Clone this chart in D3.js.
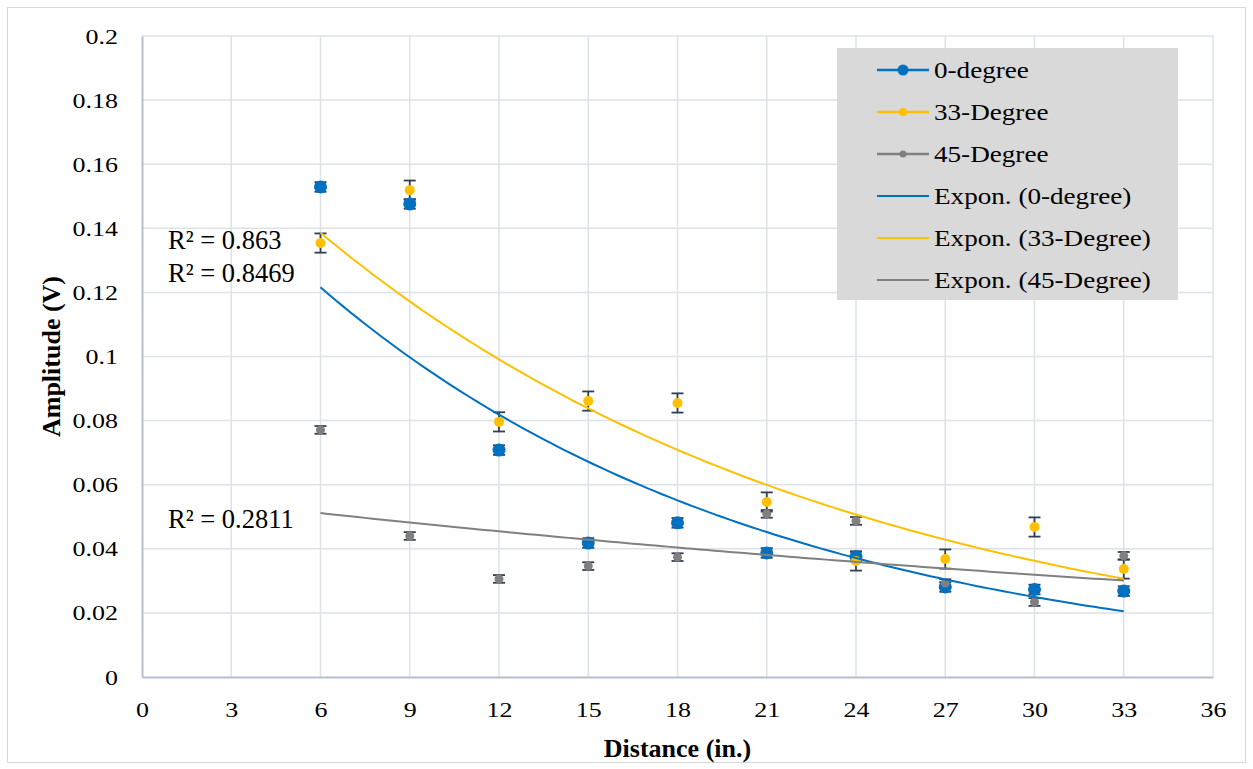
<!DOCTYPE html>
<html>
<head>
<meta charset="utf-8">
<script src="https://cdn.jsdelivr.net/npm/d3@7"></script>
<style>
  body { margin: 0; background: #fff; }
  text { font-family: "Liberation Serif", "Times New Roman", serif; fill: #000; }
</style>
</head>
<body>
<div id="chart"></div>
<script>
// values
var distances = [6, 9, 12, 15, 18, 21, 24, 27, 30, 33];
var deg0 = [0.1529, 0.1476, 0.0708, 0.0418, 0.0481, 0.0387, 0.0376, 0.0281, 0.0273, 0.0268];
var deg33 = [0.1354, 0.1519, 0.0796, 0.0861, 0.0855, 0.0546, 0.0362, 0.0368, 0.0468, 0.0337];
var deg45 = [0.0771, 0.0440, 0.0306, 0.0346, 0.0374, 0.0509, 0.0487, 0.0293, 0.0234, 0.0378];
var err0 = 0.0015, err33 = 0.003, err45 = 0.0012;
var seriesNames = ["0-degree", "33-Degree", "45-Degree"];
var trendNames = ["Expon. (0-degree)", "Expon. (33-Degree)", "Expon. (45-Degree)"];
var r2Labels = ["R² = 0.8469", "R² = 0.863", "R² = 0.2811"];
var xTicks = [0, 3, 6, 9, 12, 15, 18, 21, 24, 27, 30, 33, 36];
var yTicks = [0, 0.02, 0.04, 0.06, 0.08, 0.1, 0.12, 0.14, 0.16, 0.18, 0.2];

var width = 1253, height = 769;
var margin = {left: 142, right: 40, top: 36, bottom: 92};

var colors = ["#0070C0", "#FFC000", "#808080"];
var radii = [6.5, 5, 4.5];
var stretch = 1.18; // tick and legend text is a bit wider than plain Times
var series = [
    {name: seriesNames[0], values: deg0, err: err0},
    {name: seriesNames[1], values: deg33, err: err33},
    {name: seriesNames[2], values: deg45, err: err45}
];

var svg = d3.select("#chart").append("svg")
    .attr("width", width)
    .attr("height", height);

// chart border
svg.append("rect")
    .attr("x", 7.5).attr("y", 7.5)
    .attr("width", width - 15).attr("height", height - 14)
    .style("fill", "none")
    .style("stroke", "#D9D9D9");

var x = d3.scaleLinear().domain([0, 36]).range([margin.left, width - margin.right]);
var y = d3.scaleLinear().domain([0, 0.2]).range([height - margin.bottom, margin.top]);

// grid
svg.append("g").selectAll("line.v")
    .data(xTicks.slice(1)).enter().append("line")
    .attr("x1", function(d) { return x(d); })
    .attr("x2", function(d) { return x(d); })
    .attr("y1", y(0)).attr("y2", y(0.2))
    .style("stroke", "#DDE1E8").style("stroke-width", 1.5);

svg.append("g").selectAll("line.h")
    .data(yTicks.slice(1)).enter().append("line")
    .attr("x1", x(0)).attr("x2", x(36))
    .attr("y1", function(d) { return y(d); })
    .attr("y2", function(d) { return y(d); })
    .style("stroke", "#DDE1E8").style("stroke-width", 1.5);

// axes
var xAxis = d3.axisBottom(x).tickValues(xTicks).tickSize(0).tickPadding(24);
var yAxis = d3.axisLeft(y).tickValues(yTicks).tickSize(0).tickPadding(24 / stretch)
    .tickFormat(function(d) { return d3.format("")(+d.toFixed(2)); });

var gx = svg.append("g").attr("transform", "translate(0," + y(0) + ")").call(xAxis);
var gy = svg.append("g").attr("transform", "translate(" + x(0) + ",0)").call(yAxis);
[gx, gy].forEach(function(g) {
    g.select(".domain").style("stroke", "#B4BFD0").style("stroke-width", 2);
    g.selectAll("text")
        .style("font-size", "22px")
        .style("font-family", "Liberation Serif")
        .attr("fill", "#000")
        .attr("transform", "scale(" + stretch + ",1)");
});

// axis titles
svg.append("text")
    .attr("x", (x(0) + x(36)) / 2)
    .attr("y", 757)
    .style("text-anchor", "middle")
    .style("font-size", "26px")
    .style("font-weight", "bold")
    .text("Distance (in.)");

svg.append("text")
    .attr("transform", "translate(60," + y(0.1) + ") rotate(-90)")
    .style("text-anchor", "middle")
    .style("font-size", "26px")
    .style("font-weight", "bold")
    .text("Amplitude (V)");

// error bars (all series first)
series.forEach(function(s) {
    var g = svg.append("g");
    var pts = distances.map(function(d, i) { return {x: d, y: s.values[i]}; });
    g.selectAll("line.bar").data(pts).enter().append("line")
        .attr("x1", function(d) { return x(d.x); })
        .attr("x2", function(d) { return x(d.x); })
        .attr("y1", function(d) { return y(d.y - s.err); })
        .attr("y2", function(d) { return y(d.y + s.err); })
        .style("stroke", "#333F50").style("stroke-width", 1.8);
    [-1, 1].forEach(function(sign) {
        g.selectAll("line.cap" + sign).data(pts).enter().append("line")
            .attr("x1", function(d) { return x(d.x) - 6; })
            .attr("x2", function(d) { return x(d.x) + 6; })
            .attr("y1", function(d) { return y(d.y + sign * s.err); })
            .attr("y2", function(d) { return y(d.y + sign * s.err); })
            .style("stroke", "#333F50").style("stroke-width", 1.8);
    });
});

// markers
series.forEach(function(s, k) {
    svg.append("g").selectAll("circle").data(s.values).enter().append("circle")
        .attr("cx", function(d, i) { return x(distances[i]); })
        .attr("cy", function(d) { return y(d); })
        .attr("r", radii[k])
        .style("fill", colors[k]);
});

// exponential trendlines: least squares on ln(y), as the spreadsheet does
function expFit(xs, ys) {
    var lx = d3.mean(xs), ly = d3.mean(ys, function(v) { return Math.log(v); });
    var sxy = 0, sxx = 0;
    xs.forEach(function(xv, i) {
        sxy += (xv - lx) * (Math.log(ys[i]) - ly);
        sxx += (xv - lx) * (xv - lx);
    });
    var b = sxy / sxx;
    var a = Math.exp(ly - b * lx);
    return function(xv) { return a * Math.exp(b * xv); };
}

var line = d3.line().x(function(d) { return x(d[0]); }).y(function(d) { return y(d[1]); });
series.forEach(function(s, k) {
    var f = expFit(distances, s.values);
    var xs = d3.range(distances[0], distances[distances.length - 1] + 0.001, 0.25);
    svg.append("path")
        .attr("d", line(xs.map(function(v) { return [v, f(v)]; })))
        .style("fill", "none")
        .style("stroke", colors[k])
        .style("stroke-width", 2);
});

// R² labels
var r2Pos = [[168, 282], [168, 249], [168, 528]];
r2Labels.forEach(function(t, i) {
    svg.append("text")
        .attr("x", r2Pos[i][0]).attr("y", r2Pos[i][1])
        .style("font-size", "26.5px")
        .text(t);
});

// legend
var legend = svg.append("g");
legend.append("rect")
    .attr("x", 837).attr("y", 48)
    .attr("width", 341).attr("height", 252)
    .style("fill", "#D9D9D9");

var legendItems = seriesNames.concat(trendNames);
legendItems.forEach(function(name, i) {
    var k = i % 3;
    var cy = 70 + i * 42;
    legend.append("line")
        .attr("x1", 877).attr("x2", 929)
        .attr("y1", cy).attr("y2", cy)
        .style("stroke", colors[k])
        .style("stroke-width", i < 3 ? 2.5 : 2);
    if (i < 3) {
        legend.append("circle")
            .attr("cx", 903).attr("cy", cy)
            .attr("r", radii[k] - 1)
            .style("fill", colors[k]);
    }
    legend.append("text")
        .attr("transform", "translate(934," + (cy + 7.5) + ") scale(" + stretch + ",1)")
        .style("font-size", "23px")
        .text(name);
});
</script>
</body>
</html>
